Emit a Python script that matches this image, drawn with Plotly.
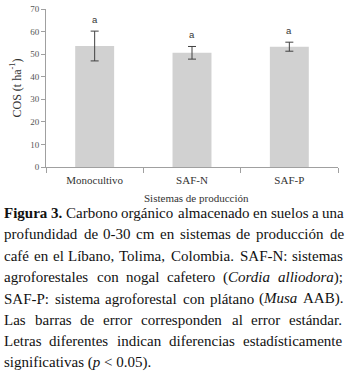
import re
import plotly.graph_objects as go

categories = ["Monocultivo", "SAF-N", "SAF-P"]
cos_values = [53.6, 50.6, 53.3]
cos_errors = [6.6, 2.8, 2.0]
letters = ["a", "a", "a"]
y_ticks = [0, 10, 20, 30, 40, 50, 60, 70]

caption_lines = [
    "<b>Figura 3.</b> Carbono orgánico almacenado en suelos a una",
    "profundidad de 0-30 cm en sistemas de producción de",
    "café en el Líbano, Tolima, Colombia. SAF-N: sistemas",
    "agroforestales con nogal cafetero (<i>Cordia alliodora</i>);",
    "SAF-P: sistema agroforestal con plátano (<i>Musa</i> AAB).",
    "Las barras de error corresponden al error estándar.",
    "Letras diferentes indican diferencias estadísticamente",
    "significativas (<i>p</i> &lt; 0.05).",
]

# Times-like advance widths (per 1000 em) used to justify caption lines
REG = dict(zip("abcdefghijklmnopqrstuvwxyz",
               [444, 500, 444, 500, 444, 333, 500, 500, 278, 278, 500, 278, 778,
                500, 500, 500, 500, 333, 389, 278, 500, 500, 722, 500, 500, 444]))
REG.update(dict(zip("ABCDEFGHILMNOPRST",
                    [722, 667, 667, 722, 611, 556, 722, 722, 333, 611, 889, 722,
                     722, 556, 667, 556, 611])))
REG.update({c: 500 for c in "0123456789"})
REG.update({".": 250, ",": 250, ":": 278, ";": 278, "-": 333, "(": 333, ")": 333,
            "<": 564, " ": 250, "á": 444, "é": 444, "í": 278, "ó": 500})
BOLD = {"F": 611, "i": 278, "g": 500, "u": 556, "r": 444, "a": 500, "3": 500, ".": 250}
ITAL = {"C": 667, "o": 500, "r": 389, "d": 500, "i": 278, "a": 500, "l": 278,
        "M": 833, "u": 500, "s": 389, "p": 500}


def split_words(line):
    """Split a line into words, re-opening/closing <b>/<i> tags per word."""
    out, open_tag = [], None
    for w in line.split(" "):
        if open_tag:
            w = "<%s>" % open_tag + w
        m = re.findall(r"<(/?)([bi])>", w)
        open_tag = None
        for close, tag in m:
            open_tag = None if close else tag
        if open_tag:
            w = w + "</%s>" % open_tag
        out.append(w)
    return out


def text_width(word, size):
    total = 0
    for part in re.split(r"(<b>.*?</b>|<i>.*?</i>)", word):
        if part.startswith("<b>"):
            total += sum(BOLD.get(c, 500) for c in part[3:-4])
        elif part.startswith("<i>"):
            total += sum(ITAL.get(c, 500) for c in part[3:-4])
        else:
            total += sum(REG.get(c, 500) for c in part.replace("&lt;", "<"))
    return total * size / 1000.0 * 1.015


W, H = 350, 375
L, R, T, B = 46, 12, 9, 208
PW, PH = W - L - R, H - T - B


def px_x(x):
    return (x - L) / PW


def px_y(y):
    return (H - B - y) / PH


fig = go.Figure()
fig.add_trace(go.Bar(
    x=categories, y=cos_values,
    marker=dict(color="#d1d1d1", line=dict(width=0)),
    error_y=dict(type="data", array=cos_errors, visible=True,
                 color="#404040", thickness=1, width=4),
    width=0.4,
))

annotations = []
for c, v, e, l in zip(categories, cos_values, cos_errors, letters):
    annotations.append(dict(x=c, y=v + e, xref="x", yref="y", text=l,
                            showarrow=False, yanchor="bottom", yshift=4,
                            font=dict(family="Liberation Sans", size=9.5, color="#333")))

annotations.append(dict(x=px_x(196), y=px_y(198), xref="paper", yref="paper",
                        text="Sistemas de producción", showarrow=False,
                        xanchor="center", yanchor="middle",
                        font=dict(family="Liberation Serif", size=11, color="#333")))

CAP_SIZE = 15.0
LEFT, RIGHT = 4, 344
y0, dy = 213, 21.4
cap_font = dict(family="Liberation Serif", size=CAP_SIZE, color="#111")
for i, line in enumerate(caption_lines):
    ypos = px_y(y0 + i * dy)
    if i == len(caption_lines) - 1:
        annotations.append(dict(x=px_x(LEFT - 2), y=ypos, xref="paper", yref="paper",
                                text=line, showarrow=False, xanchor="left",
                                yanchor="middle", font=cap_font))
        continue
    words = split_words(line)
    widths = [text_width(w, CAP_SIZE) for w in words]
    gap = (RIGHT - LEFT - sum(widths)) / (len(words) - 1)
    xpos = LEFT
    for w, wd in zip(words, widths):
        annotations.append(dict(x=px_x(xpos - 2), y=ypos, xref="paper", yref="paper",
                                text=w, showarrow=False, xanchor="left", yanchor="middle",
                                font=cap_font))
        xpos += wd + gap

fig.update_layout(
    width=W, height=H,
    margin=dict(l=L, r=R, t=T, b=B),
    paper_bgcolor="white", plot_bgcolor="white",
    showlegend=False,
    annotations=annotations,
    xaxis=dict(showline=True, linecolor="#a0a0a0", linewidth=1, automargin=False,
               ticks="outside", tickson="boundaries", ticklen=5, tickcolor="#a0a0a0",
               ticklabelstandoff=3,
               tickfont=dict(family="Liberation Serif", size=11, color="#333"),
               showgrid=False, zeroline=False),
    yaxis=dict(range=[0, 70], tickvals=y_ticks, showline=True, linecolor="#a0a0a0",
               linewidth=1, ticks="outside", ticklen=4, tickcolor="#a0a0a0",
               automargin=False,
               tickfont=dict(family="Liberation Serif", size=9, color="#555"),
               showgrid=False, zeroline=False,
               title=dict(text="COS (t ha<sup>-1</sup>)", standoff=6,
                          font=dict(family="Liberation Serif", size=12, color="#333"))),
)

fig.write_html("out.html", config={"displayModeBar": False},
               post_script="document.body.style.margin='0px';")
